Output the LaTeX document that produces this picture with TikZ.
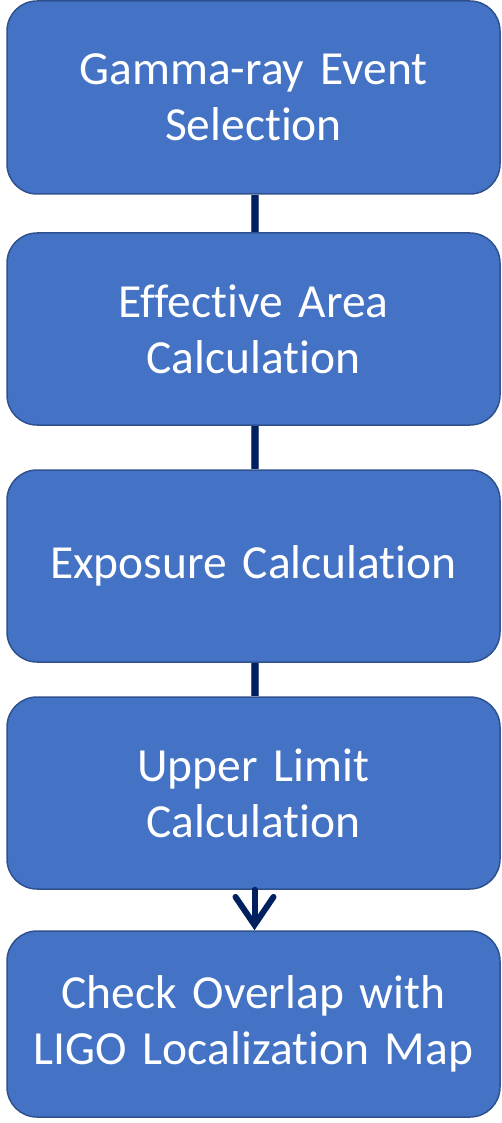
\documentclass[tikz,border=0pt]{standalone}
\usepackage{fontspec}
\setmainfont[RawFeature={-liga}, WordSpace=0.85]{Carlito}
\usetikzlibrary{arrows.meta}
\definecolor{boxfill}{HTML}{4472C4}
\definecolor{boxline}{HTML}{2F528F}
\definecolor{navy}{HTML}{002060}
\definecolor{linkedge}{HTML}{4A5F8C}
\begin{document}
\begin{tikzpicture}[x=1pt,y=-1pt,
  stepbox/.style={rectangle, rounded corners=30pt, fill=boxfill, draw=boxline, line width=1.5pt,
    minimum width=493pt, text width=480pt, align=center, text=white, inner sep=0pt,
    font=\fontsize{47.5}{56}\selectfont},
  link/.style={navy, line width=6pt, preaction={draw=linkedge, line width=8pt}},
  arrowlink/.style={navy, line width=6pt, line cap=round,
    -{Straight Barb[length=28pt, width=38pt, line cap=round]}}]
\useasboundingbox (0,0) rectangle (502,1123);
\node[stepbox, minimum height=193pt] (b1) at (253.5,97.5) {Gamma-ray Event\\Selection};
\node[stepbox, minimum height=192pt] (b2) at (253.5,329) {Effective Area\\Calculation};
\node[stepbox, minimum height=192pt] (b3) at (253.5,566) {Exposure Calculation};
\node[stepbox, minimum height=192pt] (b4) at (253.5,793) {Upper Limit\\Calculation};
\node[stepbox, minimum height=186pt] (b5) at (253.5,1024) {Check Overlap with\\LIGO Localization Map};
\draw[link] ([xshift=1pt]b1.south) -- ([xshift=1pt]b2.north);
\draw[link] ([xshift=1pt]b2.south) -- ([xshift=1pt]b3.north);
\draw[link] ([xshift=1pt]b3.south) -- ([xshift=1pt]b4.north);
\draw[arrowlink] ([xshift=1pt]b4.south) -- ([xshift=1pt]b5.north);
\end{tikzpicture}
\end{document}
